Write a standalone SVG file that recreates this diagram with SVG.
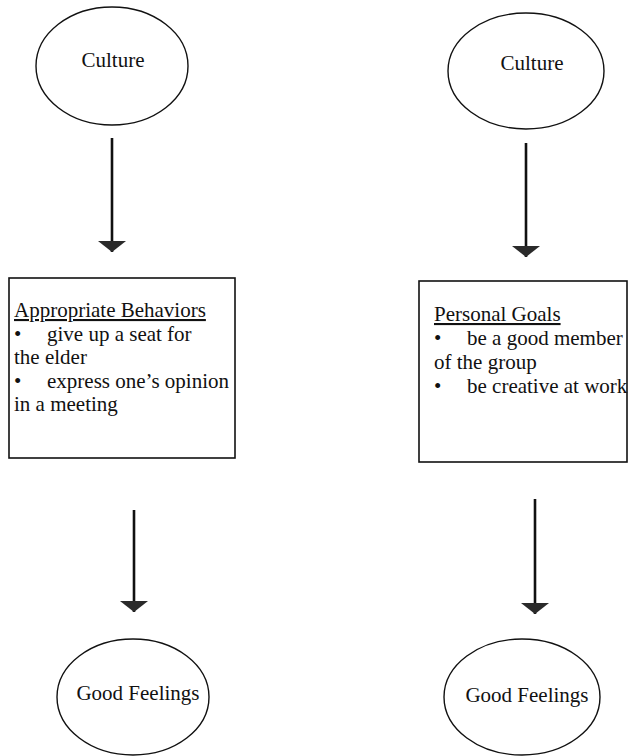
<svg xmlns="http://www.w3.org/2000/svg" width="629" height="756" viewBox="0 0 629 756">
<style>
  .shape { fill: #ffffff; stroke: #111111; stroke-width: 1.4; }
  .box { fill: none; stroke: #111111; stroke-width: 1.6; }
  .lbl { font-family: "Liberation Serif", "Times New Roman", serif; font-size: 21px; fill: #111111; }
  .mid { text-anchor: middle; }
  .conn { stroke: #111111; stroke-width: 2.6; fill: none; }
</style>
<defs>
  <marker id="head" markerUnits="userSpaceOnUse" viewBox="0 0 11 28" refX="11" refY="14" markerWidth="11" markerHeight="28" orient="auto">
    <path d="M0,0 L11,14 L0,28 Z" fill="#2a2a2a"/>
  </marker>
</defs>
<rect x="0" y="0" width="629" height="756" fill="#ffffff"/>

<g id="culture-left">
  <ellipse class="shape" cx="112" cy="66" rx="76" ry="59"/>
  <text class="lbl mid" x="113" y="67">Culture</text>
</g>
<g id="culture-right">
  <ellipse class="shape" cx="526" cy="71" rx="78" ry="58"/>
  <text class="lbl mid" x="532" y="70">Culture</text>
</g>

<g id="appropriate-behaviors">
  <rect class="box" x="9" y="278" width="226" height="180"/>
  <text class="lbl" x="14" y="317" text-decoration="underline">Appropriate Behaviors</text>
  <text class="lbl" x="14" y="341">•</text>
  <text class="lbl" x="47" y="341">give up a seat for</text>
  <text class="lbl" x="14" y="364">the elder</text>
  <text class="lbl" x="14" y="388">•</text>
  <text class="lbl" x="47" y="388">express one’s opinion</text>
  <text class="lbl" x="14" y="411">in a meeting</text>
</g>

<g id="personal-goals">
  <text class="lbl" x="434" y="321" text-decoration="underline">Personal Goals</text>
  <text class="lbl" x="434" y="345">•</text>
  <text class="lbl" x="467" y="345">be a good member</text>
  <text class="lbl" x="434" y="369">of the group</text>
  <text class="lbl" x="434" y="393">•</text>
  <text class="lbl" x="467" y="393">be creative at work</text>
  <rect class="box" x="419" y="281" width="208" height="181"/>
</g>

<g id="good-feelings-left">
  <ellipse class="shape" cx="133" cy="697" rx="76" ry="58"/>
  <text class="lbl mid" x="138" y="700">Good Feelings</text>
</g>
<g id="good-feelings-right">
  <ellipse class="shape" cx="522" cy="697" rx="78" ry="58"/>
  <text class="lbl mid" x="527" y="702">Good Feelings</text>
</g>

<g id="connectors">
  <line class="conn" x1="112" y1="138" x2="112" y2="252" marker-end="url(#head)"/>
  <line class="conn" x1="526" y1="143" x2="526" y2="257" marker-end="url(#head)"/>
  <line class="conn" x1="134" y1="510" x2="134" y2="612" marker-end="url(#head)"/>
  <line class="conn" x1="535" y1="499" x2="535" y2="614" marker-end="url(#head)"/>
</g>
</svg>
